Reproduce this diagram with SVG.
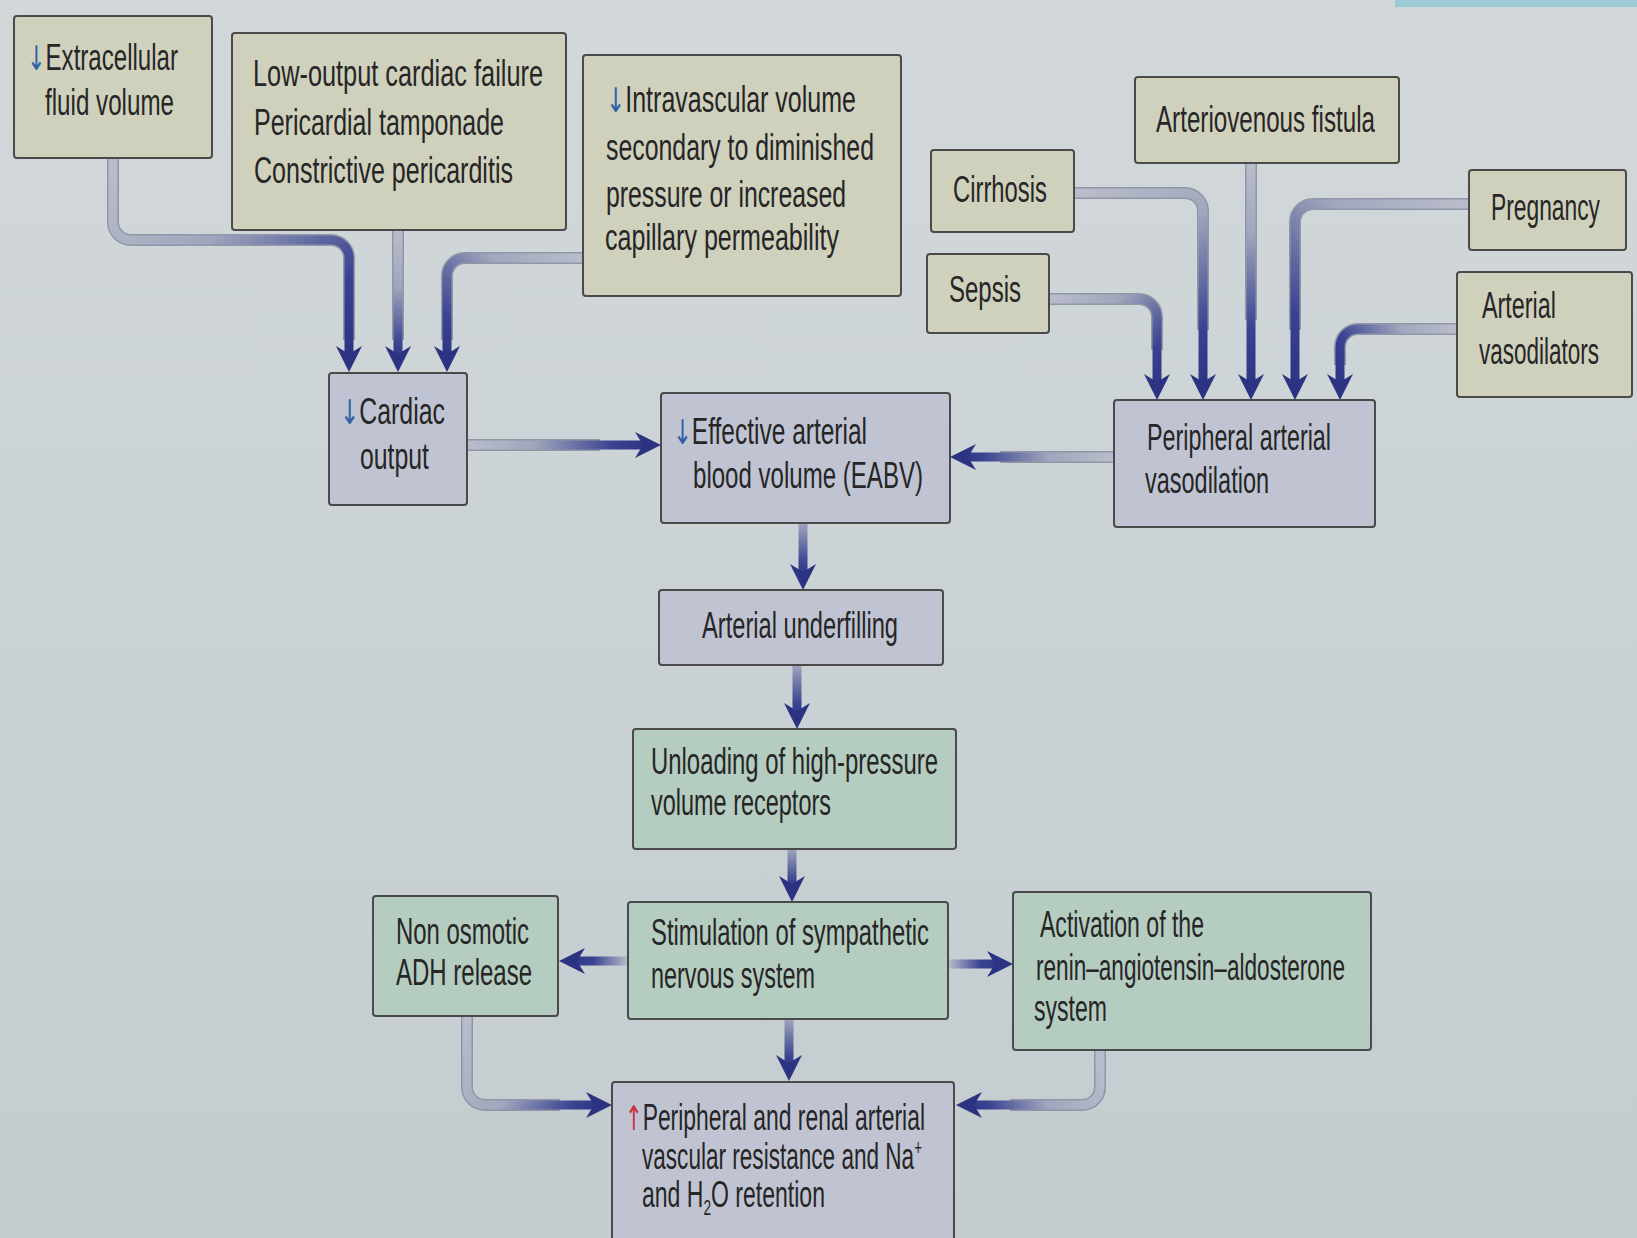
<svg xmlns="http://www.w3.org/2000/svg" width="1637" height="1238" viewBox="0 0 1637 1238">
<style>
.box{stroke:#4a4a4a;stroke-width:2}
.beige{fill:#d0d1bd}
.lav{fill:#c0c4d2}
.green{fill:#b5ccc0}
.t{font-family:"Liberation Sans",Arial,sans-serif;font-size:37px;fill:#262626}
.dn{fill:#2f5fa6;font-family:"DejaVu Sans",sans-serif;font-size:34px}
.up{fill:#c8323c;font-family:"DejaVu Sans",sans-serif;font-size:34px}
.conn{fill:none;stroke-width:9;marker-end:url(#ah)}
.out{fill:none;stroke:#7c8197;stroke-width:12;stroke-opacity:0.75}
.g0{stop-color:#b9bdcb}
.g1{stop-color:#a0a6bc}
.g2{stop-color:#3a4391}
.g3{stop-color:#29317f}
</style>
<defs>
<linearGradient id="bg" x1="0" y1="0" x2="0" y2="1">
<stop offset="0" stop-color="#d2d8da"/>
<stop offset="1" stop-color="#c4ccd0"/>
</linearGradient>
<marker id="ah" viewBox="0 0 26 26" markerWidth="26" markerHeight="26" markerUnits="userSpaceOnUse" refX="12" refY="13" orient="auto">
<path d="M0,0 L26,13 L0,26 L8,13 Z" fill="#2b3382"/>
</marker>
<linearGradient id="c1" gradientUnits="userSpaceOnUse" x1="113" y1="158" x2="349" y2="372"><stop offset="0" class="g0"/><stop offset="0.4" class="g1"/><stop offset="0.8" class="g2"/><stop offset="1" class="g3"/></linearGradient>
<linearGradient id="c2" gradientUnits="userSpaceOnUse" x1="0" y1="230" x2="0" y2="372"><stop offset="0" class="g0"/><stop offset="0.4" class="g1"/><stop offset="0.8" class="g2"/><stop offset="1" class="g3"/></linearGradient>
<linearGradient id="c3" gradientUnits="userSpaceOnUse" x1="583" y1="258" x2="447" y2="372"><stop offset="0" class="g0"/><stop offset="0.4" class="g1"/><stop offset="0.8" class="g2"/><stop offset="1" class="g3"/></linearGradient>
<linearGradient id="c4" gradientUnits="userSpaceOnUse" x1="467" y1="0" x2="661" y2="0"><stop offset="0" class="g0"/><stop offset="0.35" class="g1"/><stop offset="0.75" class="g2"/><stop offset="1" class="g3"/></linearGradient>
<linearGradient id="c5" gradientUnits="userSpaceOnUse" x1="1114" y1="0" x2="950" y2="0"><stop offset="0" class="g0"/><stop offset="0.4" class="g1"/><stop offset="0.8" class="g2"/><stop offset="1" class="g3"/></linearGradient>
<linearGradient id="c6" gradientUnits="userSpaceOnUse" x1="1074" y1="193" x2="1203" y2="400"><stop offset="0" class="g0"/><stop offset="0.35" class="g1"/><stop offset="0.75" class="g2"/><stop offset="1" class="g3"/></linearGradient>
<linearGradient id="c7" gradientUnits="userSpaceOnUse" x1="1049" y1="299" x2="1157" y2="400"><stop offset="0" class="g0"/><stop offset="0.35" class="g1"/><stop offset="0.75" class="g2"/><stop offset="1" class="g3"/></linearGradient>
<linearGradient id="c8" gradientUnits="userSpaceOnUse" x1="0" y1="163" x2="0" y2="400"><stop offset="0" class="g0"/><stop offset="0.3" class="g1"/><stop offset="0.7" class="g2"/><stop offset="1" class="g3"/></linearGradient>
<linearGradient id="c9" gradientUnits="userSpaceOnUse" x1="1469" y1="204" x2="1295" y2="400"><stop offset="0" class="g0"/><stop offset="0.35" class="g1"/><stop offset="0.75" class="g2"/><stop offset="1" class="g3"/></linearGradient>
<linearGradient id="c10" gradientUnits="userSpaceOnUse" x1="1457" y1="329" x2="1340" y2="400"><stop offset="0" class="g0"/><stop offset="0.35" class="g1"/><stop offset="0.75" class="g2"/><stop offset="1" class="g3"/></linearGradient>
<linearGradient id="c11" gradientUnits="userSpaceOnUse" x1="0" y1="523" x2="0" y2="590"><stop offset="0" class="g1"/><stop offset="0.6" class="g2"/><stop offset="1" class="g3"/></linearGradient>
<linearGradient id="c12" gradientUnits="userSpaceOnUse" x1="0" y1="665" x2="0" y2="729"><stop offset="0" class="g1"/><stop offset="0.6" class="g2"/><stop offset="1" class="g3"/></linearGradient>
<linearGradient id="c13" gradientUnits="userSpaceOnUse" x1="0" y1="849" x2="0" y2="902"><stop offset="0" class="g1"/><stop offset="0.6" class="g2"/><stop offset="1" class="g3"/></linearGradient>
<linearGradient id="c14" gradientUnits="userSpaceOnUse" x1="628" y1="0" x2="559" y2="0"><stop offset="0" class="g0"/><stop offset="0.5" class="g2"/><stop offset="1" class="g3"/></linearGradient>
<linearGradient id="c15" gradientUnits="userSpaceOnUse" x1="948" y1="0" x2="1013" y2="0"><stop offset="0" class="g0"/><stop offset="0.5" class="g2"/><stop offset="1" class="g3"/></linearGradient>
<linearGradient id="c16" gradientUnits="userSpaceOnUse" x1="0" y1="1019" x2="0" y2="1081"><stop offset="0" class="g1"/><stop offset="0.6" class="g2"/><stop offset="1" class="g3"/></linearGradient>
<linearGradient id="c17" gradientUnits="userSpaceOnUse" x1="467" y1="1016" x2="612" y2="1105"><stop offset="0" class="g0"/><stop offset="0.45" class="g1"/><stop offset="0.8" class="g2"/><stop offset="1" class="g3"/></linearGradient>
<linearGradient id="c18" gradientUnits="userSpaceOnUse" x1="1100" y1="1050" x2="956" y2="1105"><stop offset="0" class="g0"/><stop offset="0.45" class="g1"/><stop offset="0.8" class="g2"/><stop offset="1" class="g3"/></linearGradient>
</defs>

<rect x="0" y="0" width="1637" height="1238" fill="url(#bg)"/>
<rect x="1395" y="0" width="242" height="7" fill="#9ccbd3"/>

<g id="connectors">
<g id="connector-outlines">
<path class="out" d="M113,158 V222 A18,18 0 0 0 131,240 H331 A18,18 0 0 1 349,258 V340"/>
<path class="out" d="M398,230 V340"/>
<path class="out" d="M583,258 H465 A18,18 0 0 0 447,276 V340"/>
<path class="out" d="M467,445 H600"/>
<path class="out" d="M1114,457 H1000"/>
<path class="out" d="M1074,193 H1185 A18,18 0 0 1 1203,211 V330"/>
<path class="out" d="M1049,299 H1139 A18,18 0 0 1 1157,317 V350"/>
<path class="out" d="M1251,163 V320"/>
<path class="out" d="M1469,204 H1313 A18,18 0 0 0 1295,222 V330"/>
<path class="out" d="M1457,329 H1358 A18,18 0 0 0 1340,347 V365"/>
<path class="out" d="M467,1016 V1087 A18,18 0 0 0 485,1105 H560"/>
<path class="out" d="M1100,1050 V1087 A18,18 0 0 1 1082,1105 H1010"/>
</g>
<path class="conn" stroke="url(#c1)" d="M113,158 V222 A18,18 0 0 0 131,240 H331 A18,18 0 0 1 349,258 V358"/>
<path class="conn" stroke="url(#c2)" d="M398,230 V358"/>
<path class="conn" stroke="url(#c3)" d="M583,258 H465 A18,18 0 0 0 447,276 V358"/>
<path class="conn" stroke="url(#c4)" d="M467,445 H647"/>
<path class="conn" stroke="url(#c5)" d="M1114,457 H964"/>
<path class="conn" stroke="url(#c6)" d="M1074,193 H1185 A18,18 0 0 1 1203,211 V386"/>
<path class="conn" stroke="url(#c7)" d="M1049,299 H1139 A18,18 0 0 1 1157,317 V386"/>
<path class="conn" stroke="url(#c8)" d="M1251,163 V386"/>
<path class="conn" stroke="url(#c9)" d="M1469,204 H1313 A18,18 0 0 0 1295,222 V386"/>
<path class="conn" stroke="url(#c10)" d="M1457,329 H1358 A18,18 0 0 0 1340,347 V386"/>
<path class="conn" stroke="url(#c11)" d="M803,523 V576"/>
<path class="conn" stroke="url(#c12)" d="M797,665 V715"/>
<path class="conn" stroke="url(#c13)" d="M792,849 V888"/>
<path class="conn" stroke="url(#c14)" d="M628,961 H573"/>
<path class="conn" stroke="url(#c15)" d="M948,964 H999"/>
<path class="conn" stroke="url(#c16)" d="M789,1019 V1067"/>
<path class="conn" stroke="url(#c17)" d="M467,1016 V1087 A18,18 0 0 0 485,1105 H598"/>
<path class="conn" stroke="url(#c18)" d="M1100,1050 V1087 A18,18 0 0 1 1082,1105 H970"/>
</g>

<g id="extracellular">
<rect class="box beige" x="14" y="16" width="198" height="142" rx="3"/>
<text class="t" x="27" y="70" textLength="151" lengthAdjust="spacingAndGlyphs"><tspan class="dn">↓</tspan>Extracellular</text>
<text class="t" x="45" y="115" textLength="129" lengthAdjust="spacingAndGlyphs">fluid volume</text>
</g>

<g id="lowoutput">
<rect class="box beige" x="232" y="33" width="334" height="197" rx="3"/>
<text class="t" x="253" y="86" textLength="290" lengthAdjust="spacingAndGlyphs">Low-output cardiac failure</text>
<text class="t" x="254" y="135" textLength="250" lengthAdjust="spacingAndGlyphs">Pericardial tamponade</text>
<text class="t" x="254" y="183" textLength="259" lengthAdjust="spacingAndGlyphs">Constrictive pericarditis</text>
</g>

<g id="intravascular">
<rect class="box beige" x="583" y="55" width="318" height="241" rx="3"/>
<text class="t" x="606" y="112" textLength="250" lengthAdjust="spacingAndGlyphs"><tspan class="dn">↓</tspan>Intravascular volume</text>
<text class="t" x="606" y="160" textLength="268" lengthAdjust="spacingAndGlyphs">secondary to diminished</text>
<text class="t" x="606" y="207" textLength="240" lengthAdjust="spacingAndGlyphs">pressure or increased</text>
<text class="t" x="605" y="250" textLength="234" lengthAdjust="spacingAndGlyphs">capillary permeability</text>
</g>

<g id="cirrhosis">
<rect class="box beige" x="931" y="150" width="143" height="82" rx="3"/>
<text class="t" x="953" y="202" textLength="94" lengthAdjust="spacingAndGlyphs">Cirrhosis</text>
</g>

<g id="sepsis">
<rect class="box beige" x="927" y="254" width="122" height="79" rx="3"/>
<text class="t" x="949" y="302" textLength="72" lengthAdjust="spacingAndGlyphs">Sepsis</text>
</g>

<g id="avfistula">
<rect class="box beige" x="1135" y="77" width="264" height="86" rx="3"/>
<text class="t" x="1156" y="132" textLength="219" lengthAdjust="spacingAndGlyphs">Arteriovenous fistula</text>
</g>

<g id="pregnancy">
<rect class="box beige" x="1469" y="170" width="157" height="80" rx="3"/>
<text class="t" x="1491" y="220" textLength="109" lengthAdjust="spacingAndGlyphs">Pregnancy</text>
</g>

<g id="vasodilators">
<rect class="box beige" x="1457" y="272" width="175" height="125" rx="3"/>
<text class="t" x="1482" y="318" textLength="74" lengthAdjust="spacingAndGlyphs">Arterial</text>
<text class="t" x="1479" y="364" textLength="120" lengthAdjust="spacingAndGlyphs">vasodilators</text>
</g>

<g id="pav">
<rect class="box lav" x="1114" y="400" width="261" height="127" rx="3"/>
<text class="t" x="1147" y="450" textLength="184" lengthAdjust="spacingAndGlyphs">Peripheral arterial</text>
<text class="t" x="1145" y="493" textLength="124" lengthAdjust="spacingAndGlyphs">vasodilation</text>
</g>

<g id="cardiac">
<rect class="box lav" x="329" y="373" width="138" height="132" rx="3"/>
<text class="t" x="340" y="424" textLength="105" lengthAdjust="spacingAndGlyphs"><tspan class="dn">↓</tspan>Cardiac</text>
<text class="t" x="360" y="469" textLength="69" lengthAdjust="spacingAndGlyphs">output</text>
</g>

<g id="eabv">
<rect class="box lav" x="661" y="393" width="289" height="130" rx="3"/>
<text class="t" x="673" y="444" textLength="194" lengthAdjust="spacingAndGlyphs"><tspan class="dn">↓</tspan>Effective arterial</text>
<text class="t" x="693" y="488" textLength="230" lengthAdjust="spacingAndGlyphs">blood volume (EABV)</text>
</g>

<g id="underfilling">
<rect class="box lav" x="659" y="590" width="284" height="75" rx="3"/>
<text class="t" x="702" y="638" textLength="196" lengthAdjust="spacingAndGlyphs">Arterial underfilling</text>
</g>

<g id="unloading">
<rect class="box green" x="633" y="729" width="323" height="120" rx="3"/>
<text class="t" x="651" y="774" textLength="287" lengthAdjust="spacingAndGlyphs">Unloading of high-pressure</text>
<text class="t" x="651" y="815" textLength="180" lengthAdjust="spacingAndGlyphs">volume receptors</text>
</g>

<g id="stimulation">
<rect class="box green" x="628" y="902" width="320" height="117" rx="3"/>
<text class="t" x="651" y="945" textLength="278" lengthAdjust="spacingAndGlyphs">Stimulation of sympathetic</text>
<text class="t" x="651" y="988" textLength="164" lengthAdjust="spacingAndGlyphs">nervous system</text>
</g>

<g id="adh">
<rect class="box green" x="373" y="896" width="185" height="120" rx="3"/>
<text class="t" x="396" y="944" textLength="133" lengthAdjust="spacingAndGlyphs">Non osmotic</text>
<text class="t" x="396" y="985" textLength="136" lengthAdjust="spacingAndGlyphs">ADH release</text>
</g>

<g id="raas">
<rect class="box green" x="1013" y="892" width="358" height="158" rx="3"/>
<text class="t" x="1040" y="937" textLength="164" lengthAdjust="spacingAndGlyphs">Activation of the</text>
<text class="t" x="1036" y="980" textLength="309" lengthAdjust="spacingAndGlyphs">renin–angiotensin–aldosterone</text>
<text class="t" x="1034" y="1021" textLength="73" lengthAdjust="spacingAndGlyphs">system</text>
</g>

<g id="resistance">
<rect class="box lav" x="612" y="1082" width="342" height="170" rx="3"/>
<text class="t" x="625" y="1130" textLength="300" lengthAdjust="spacingAndGlyphs"><tspan class="up">↑</tspan>Peripheral and renal arterial</text>
<text class="t" x="642" y="1169" textLength="280" lengthAdjust="spacingAndGlyphs">vascular resistance and Na<tspan font-size="22" dy="-14">+</tspan></text>
<text class="t" x="642" y="1207" textLength="183" lengthAdjust="spacingAndGlyphs">and H<tspan font-size="22" dy="8">2</tspan><tspan dy="-8">O retention</tspan></text>
</g>
</svg>
